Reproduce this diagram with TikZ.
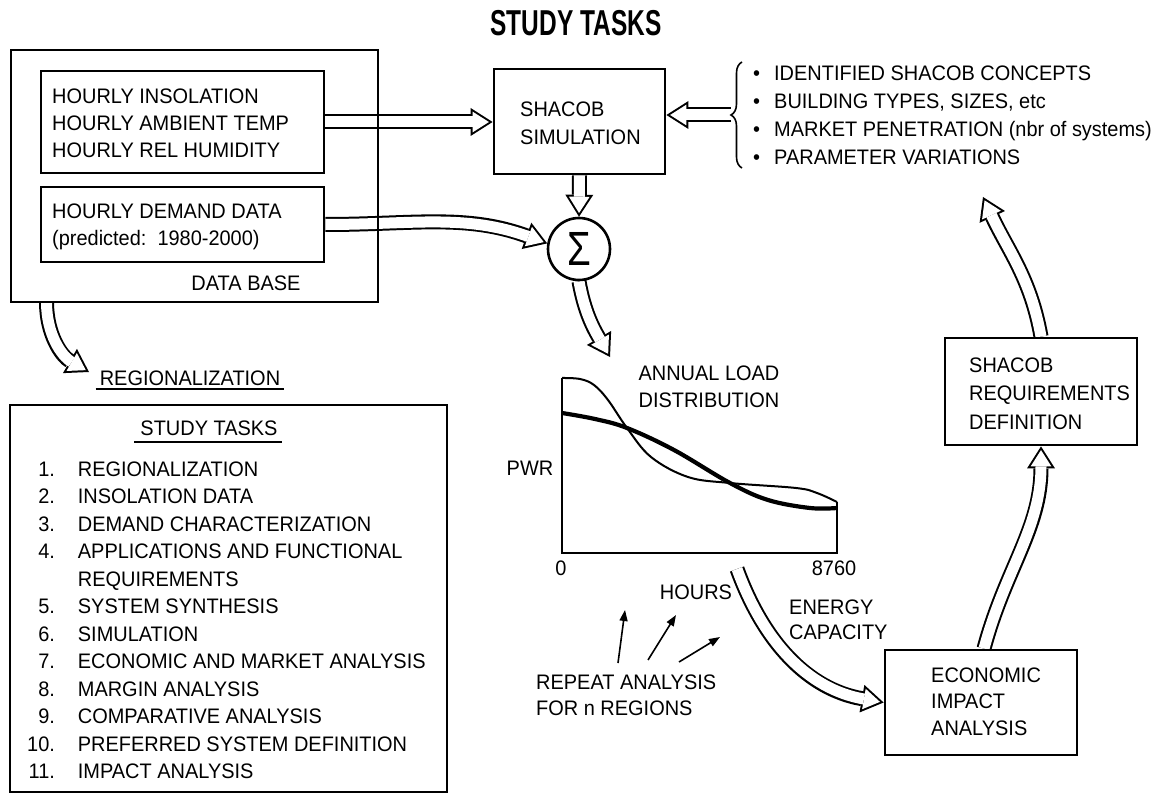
\documentclass[tikz,border=0pt]{standalone}
\usepackage{fontspec}
\setmainfont{Liberation Sans}[FakeStretch=0.95]
\newfontfamily\titlefont[FakeStretch=0.68]{Liberation Sans}
\newfontfamily\sigmafont[FakeStretch=0.8]{Liberation Sans}
\usetikzlibrary{arrows.meta, decorations.pathreplacing, backgrounds}

\tikzset{
  lbl/.style={inner sep=0pt, font=\fontsize{21}{27}\selectfont, align=left},
  box/.style={draw, line width=2.8pt, inner sep=0pt},
  hollow/.style={white, line width=11pt, shorten >=3.7pt,
    -{Triangle[width=20.7pt, length=16.3pt, line width=0pt]},
    preaction={draw=black, line width=15pt, shorten >=0pt,
      -{Triangle[width=28pt, length=22pt, line width=0pt]}}},
  pointer/.style={line width=1.6pt, -{Triangle[length=11pt, width=8pt]}},
}

\begin{document}
\begin{tikzpicture}[x=1pt, y=-1pt]
  \useasboundingbox (0,0) rectangle (1170,794);

  \node[inner sep=0pt, font=\titlefont\fontsize{36}{36}\selectfont\bfseries] (title) at (576,23) {STUDY TASKS};

  % data base
  \node[box, minimum width=367pt, minimum height=252pt] (database) at (194.5,176) {};
  \node[box, minimum width=283pt, minimum height=102pt] (weather) at (182.5,122) {};
  \node[lbl, anchor=west] (weathertext) at (52,123.5) {HOURLY INSOLATION\\HOURLY AMBIENT TEMP\\HOURLY REL HUMIDITY};
  \node[box, minimum width=283pt, minimum height=75pt] (demand) at (182.5,224.5) {};
  \node[lbl, anchor=west] (demandtext) at (52,227) {HOURLY DEMAND DATA\\(predicted:\ \ 1980-2000)};
  \node[lbl] (dbtext) at (246,283) {DATA BASE};

  % simulation and summing
  \node[box, minimum width=171pt, minimum height=105pt] (sim) at (579.5,121.5) {};
  \node[lbl, anchor=west, font=\fontsize{21}{28}\selectfont] (simtext) at (520,123) {SHACOB\\SIMULATION};
  \node[draw, circle, line width=2.6pt, minimum size=62pt, inner sep=0pt,
    font=\sigmafont\fontsize{48}{48}\selectfont] (sigma) at (579,249) {Σ};

  % inputs
  \draw[line width=1.6pt, decorate, decoration={brace, amplitude=11pt}] (742,168) -- (742,62);
  \coordinate (bracetip) at (731,115);
  \node[lbl, anchor=west, font=\fontsize{21}{28}\selectfont] (inputs) at (753,115) {%
    \makebox[21pt][l]{•}IDENTIFIED SHACOB CONCEPTS\\
    \makebox[21pt][l]{•}BUILDING TYPES, SIZES, etc\\
    \makebox[21pt][l]{•}MARKET PENETRATION (nbr of systems)\\
    \makebox[21pt][l]{•}PARAMETER VARIATIONS};

  % load curve
  \node[lbl, align=center] (loadtitle) at (709,386.5) {ANNUAL LOAD\\DISTRIBUTION};
  \draw[line width=2.8pt] (562,378) -- (562,553) -- (837,553) -- (837,502);
  \draw[line width=2pt] plot[smooth, tension=0.6] coordinates {(562,378) (580,379) (594,385) (608,400) (627,428) (651,457) (688,477) (730,483) (796,488) (817,493) (837,502)};
  \draw[line width=4.2pt] plot[smooth, tension=0.6] coordinates {(562,413) (595,419) (627,428) (674,450) (730,483) (768,500) (810,508) (837,508)};
  \node[lbl] (pwr) at (530,468) {PWR};
  \node[lbl] (xzero) at (561,568) {0};
  \node[lbl] (xmax) at (834,568) {8760};
  \node[lbl] (hours) at (696,592) {HOURS};
  \node[lbl, anchor=west, font=\fontsize{21}{25}\selectfont] (energy) at (789,619.5) {ENERGY\\CAPACITY};
  \node[lbl, anchor=west, font=\fontsize{21}{26}\selectfont] (repeat) at (536,695) {REPEAT ANALYSIS\\FOR n REGIONS};
  \foreach \i/\sx/\sy/\ex/\ey in {1/618/663/625/610, 2/648/660/676/615, 3/679/662/720/637} {
    \coordinate (rs\i) at (\sx,\sy);
    \coordinate (re\i) at (\ex,\ey);
    \draw[pointer] (rs\i) -- (re\i);
  }

  % impact and requirements
  \node[box, minimum width=192pt, minimum height=105pt] (economic) at (981,702.5) {};
  \node[lbl, anchor=west, font=\fontsize{21}{26.5}\selectfont] (economictext) at (931,701.5) {ECONOMIC\\IMPACT\\ANALYSIS};
  \node[box, minimum width=192pt, minimum height=107pt] (requirements) at (1041,391.5) {};
  \node[lbl, anchor=west, font=\fontsize{21}{28.5}\selectfont] (requirementstext) at (969,393.5) {SHACOB\\REQUIREMENTS\\DEFINITION};

  % task list
  \node[lbl] (regionalization) at (190,378) {REGIONALIZATION};
  \draw[line width=1.8pt] ([xshift=-4pt, yshift=-3pt]regionalization.south west) -- ([xshift=4pt, yshift=-3pt]regionalization.south east);
  \node[box, minimum width=437pt, minimum height=387pt] (tasks) at (228.5,598.5) {};
  \node[lbl] (taskstitle) at (209,428) {STUDY TASKS};
  \draw[line width=1.8pt] ([xshift=-6pt, yshift=-6pt]taskstitle.south west) -- ([xshift=4pt, yshift=-6pt]taskstitle.south east);
  \node[inner sep=0pt, anchor=north west, font=\fontsize{21}{27.5}\selectfont] (tasklist) at (27,457) {%
    \begin{tabular}{@{}r@{\hspace{23pt}}l@{}}
      1. & REGIONALIZATION\\
      2. & INSOLATION DATA\\
      3. & DEMAND CHARACTERIZATION\\
      4. & APPLICATIONS AND FUNCTIONAL\\
         & REQUIREMENTS\\
      5. & SYSTEM SYNTHESIS\\
      6. & SIMULATION\\
      7. & ECONOMIC AND MARKET ANALYSIS\\
      8. & MARGIN ANALYSIS\\
      9. & COMPARATIVE ANALYSIS\\
      10. & PREFERRED SYSTEM DEFINITION\\
      11. & IMPACT ANALYSIS
    \end{tabular}};

  % flow arrows
  \coordinate (dbfoot) at (46.5,302);
  \coordinate (regfoot) at (89,372);
  \coordinate (sigmafoot) at (610,357);
  \coordinate (loadfoot) at (737,569);
  \coordinate (inputsfoot) at (983,197);
  \begin{pgfonlayer}{background}
    \draw[hollow] (weather.east) -- (weather.east -| sim.west);
    \draw[hollow] (bracetip) -- (bracetip -| sim.east);
    \draw[hollow] (sim.south) -- (sigma.north);
    \draw[hollow] (demand.east) to[out=0, in=160] (sigma.170);
    \draw[hollow] (sigma.south) to[out=-80, in=120] (sigmafoot);
    \draw[hollow] (dbfoot) to[out=-90, in=150] (regfoot);
    \draw[hollow] (loadfoot) to[out=-70, in=170] (economic.west);
    \draw[hollow] ([xshift=3pt]economic.north) to[out=75, in=-90] (requirements.south);
    \draw[hollow] (requirements.north) to[out=100, in=-65] (inputsfoot);
  \end{pgfonlayer}
\end{tikzpicture}
\end{document}
